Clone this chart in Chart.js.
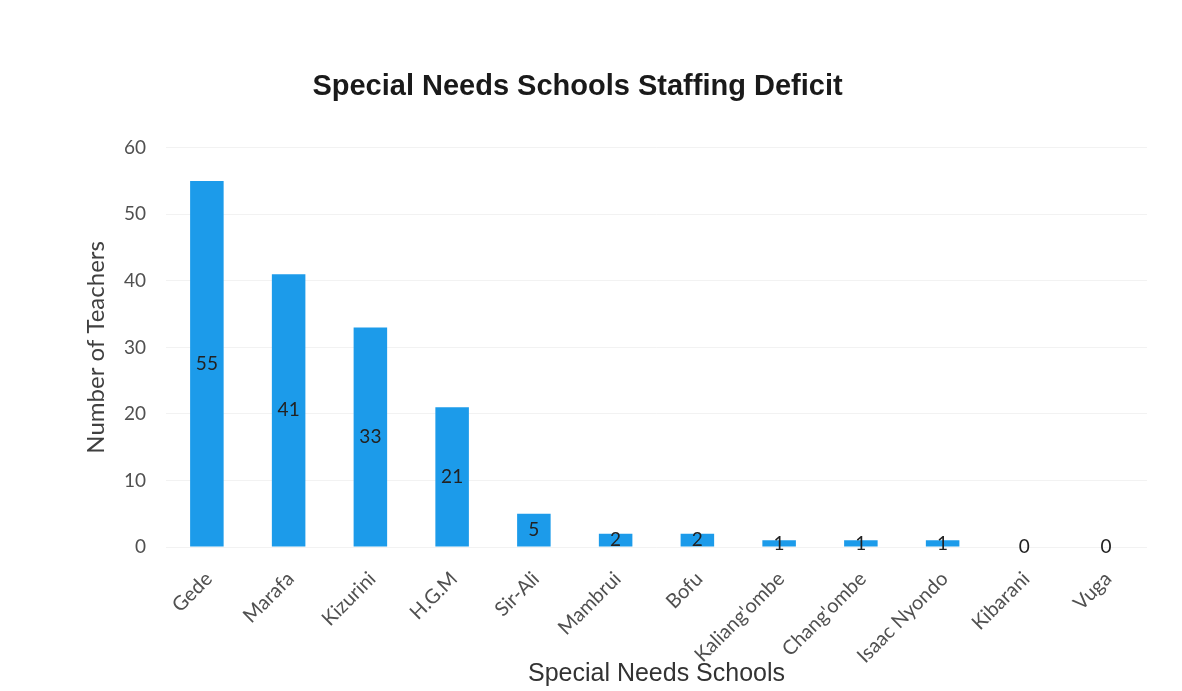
<!DOCTYPE html>
<html>
<head>
<meta charset="utf-8">
<title>Special Needs Schools Staffing Deficit</title>
<script src="https://cdn.jsdelivr.net/npm/chart.js@4.4.1/dist/chart.umd.min.js"></script>
<style>
    html, body { margin: 0; padding: 0; background: #ffffff; }
    #wrap { width: 1182px; height: 691px; }
</style>
</head>
<body>
<div id="wrap"><canvas id="deficitChart" width="1182" height="691"></canvas></div>
<script>
// Staffing deficit per special needs school
const schools = ['Gede', 'Marafa', 'Kizurini', 'H.G.M', 'Sir-Ali', 'Mambrui', 'Bofu',
    "Kaliang'ombe", "Chang'ombe", 'Isaac Nyondo', 'Kibarani', 'Vuga'];
const teachersNeeded = [55, 41, 33, 21, 5, 2, 2, 1, 1, 1, 0, 0];
const yTicks = [0, 10, 20, 30, 40, 50, 60];

const BAR_COLOR = '#1c9bea';
const TEXT_COLOR = '#505050';
const BODY_FONT = 'Lato, "Open Sans", sans-serif';
const ARIAL = '"Liberation Sans", Arial, sans-serif';

// Value labels drawn in the middle of each bar
const barValueLabels = {
    id: 'barValueLabels',
    afterDatasetsDraw(chart) {
        const ctx = chart.ctx;
        const meta = chart.getDatasetMeta(0);
        ctx.save();
        ctx.font = '19px ' + BODY_FONT;
        ctx.fillStyle = '#222222';
        ctx.textAlign = 'center';
        ctx.textBaseline = 'middle';
        meta.data.forEach((bar, i) => {
            const mid = (bar.y + bar.base) / 2;
            ctx.fillText(String(teachersNeeded[i]), bar.x, mid);
        });
        ctx.restore();
    }
};

const config = {
    type: 'bar',
    data: {
        labels: schools,
        datasets: [{
            label: 'Number of Teachers',
            data: teachersNeeded,
            backgroundColor: BAR_COLOR,
            borderWidth: 0,
            barPercentage: 0.82,
            categoryPercentage: 0.5
        }]
    },
    options: {
        responsive: false,
        animation: false,
        layout: {
            padding: { left: 8, right: 35, top: 0, bottom: 0 }
        },
        plugins: {
            legend: { display: false },
            tooltip: { enabled: false },
            title: {
                display: true,
                text: 'Special Needs Schools Staffing Deficit',
                color: '#1a1a1a',
                font: { family: ARIAL, size: 29, weight: 'bold', lineHeight: 1.2 },
                padding: { top: 70, bottom: 43 }
            }
        },
        scales: {
            x: {
                grid: { display: false, drawTicks: false },
                border: { display: false },
                ticks: {
                    color: TEXT_COLOR,
                    font: { family: BODY_FONT, size: 20 },
                    minRotation: 45,
                    maxRotation: 45,
                    autoSkip: false,
                    labelOffset: 2,
                    padding: 20
                },
                title: {
                    display: true,
                    text: 'Special Needs Schools',
                    color: '#333333',
                    font: { family: ARIAL, size: 25 },
                    padding: { top: 0, bottom: 2 }
                },
                afterFit(scale) { scale.height = 144; }
            },
            y: {
                min: 0,
                max: 60,
                afterBuildTicks(scale) { scale.ticks = yTicks.map(v => ({ value: v })); },
                grid: { color: 'rgba(0,0,0,0.05)', drawTicks: false },
                border: { display: false },
                ticks: {
                    color: TEXT_COLOR,
                    font: { family: BODY_FONT, size: 19 },
                    padding: 20
                },
                title: {
                    display: true,
                    text: 'Number of Teachers',
                    color: '#404040',
                    font: { family: BODY_FONT, size: 24 },
                    padding: { top: 74, bottom: 0 }
                },
                afterFit(scale) { scale.width = 158; }
            }
        }
    },
    plugins: [barValueLabels]
};

new Chart(document.getElementById('deficitChart'), config);
</script>
</body>
</html>
